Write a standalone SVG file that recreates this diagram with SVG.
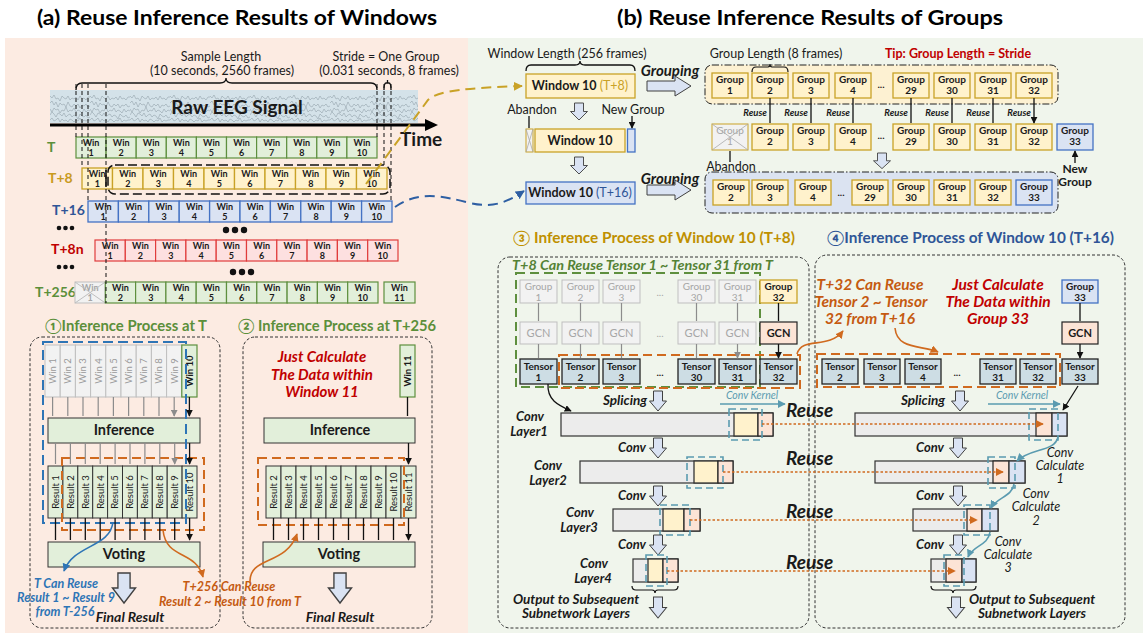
<svg xmlns="http://www.w3.org/2000/svg" width="1143" height="633" viewBox="0 0 1143 633">
<defs>
<style>
text{font-family:Lato,"Liberation Sans","DejaVu Sans",sans-serif;fill:#1a1a1a}
.ttl{font-size:21px;font-weight:bold;fill:#000}
.sm{font-size:12.5px}
.w{font-size:9px;font-weight:bold;text-anchor:middle}
.wg{font-size:9px;font-weight:bold;text-anchor:middle;fill:#a6a6a6}
.gt{font-size:10px;font-weight:bold;text-anchor:middle}
.gtg{font-size:10px;text-anchor:middle;fill:#a6a6a6}
.vt{font-size:9.5px;text-anchor:middle}
.vtg{font-size:9.5px;text-anchor:middle;fill:#9a9a9a}
.lbl{font-size:14px;font-weight:bold}
.bi{font-weight:bold;font-style:italic}
.c{text-anchor:middle}
.cv{font-size:13px}
.gb{fill:#e2efda;stroke:#5e8f3e;stroke-width:1.2}
.yb{fill:#fff2cc;stroke:#c9a227;stroke-width:1.3}
.bb{fill:#dae3f3;stroke:#4472c4;stroke-width:1.3}
.rb{fill:#fde0e0;stroke:#e03c3c;stroke-width:1.2}
.xb{fill:#f2f2f2;stroke:#bfbfbf;stroke-width:1}
.tb{fill:#cddde4;stroke:#222;stroke-width:1.3}
.pb{fill:#fce4d6;stroke:#222;stroke-width:1.2}
.kb{fill:#e2efda;stroke:#333;stroke-width:1}
.bar{fill:#ececec;stroke:#333;stroke-width:1.2}
.frame{fill:none;stroke:#333;stroke-width:1;stroke-dasharray:3,2}
.dd{stroke:#222;stroke-width:1;stroke-dasharray:7,2,1.5,2}
.kern{fill:none;stroke:#5a9bb0;stroke-width:1.6;stroke-dasharray:7,4}
.od{fill:none;stroke:#d06a1f;stroke-width:2;stroke-dasharray:9,5}
.dot{fill:none;stroke:#d06a1f;stroke-width:1.6;stroke-dasharray:2.5,2;marker-end:url(#mo)}
.vd{fill:none;stroke:#111;stroke-width:1;stroke-dasharray:4,3}
.ga{stroke:#8c8c8c;stroke-width:1.2;marker-end:url(#mg)}
.ba{stroke:#111;stroke-width:1.3;marker-end:url(#mb)}
.org{fill:#c55a11}
.teal{fill:#5a9bb0}
</style>
<marker id="mb" viewBox="0 0 10 10" refX="9" refY="5" markerWidth="7" markerHeight="7" markerUnits="userSpaceOnUse" orient="auto"><path d="M0,0L10,5L0,10Z" fill="#111"/></marker>
<marker id="mg" viewBox="0 0 10 10" refX="9" refY="5" markerWidth="7" markerHeight="7" markerUnits="userSpaceOnUse" orient="auto"><path d="M0,0L10,5L0,10Z" fill="#8c8c8c"/></marker>
<marker id="mo" viewBox="0 0 10 10" refX="9" refY="5" markerWidth="8" markerHeight="8" markerUnits="userSpaceOnUse" orient="auto"><path d="M0,0L10,5L0,10Z" fill="#d06a1f"/></marker>
<marker id="mt" viewBox="0 0 10 10" refX="9" refY="5" markerWidth="8" markerHeight="8" markerUnits="userSpaceOnUse" orient="auto"><path d="M0,0L10,5L0,10Z" fill="#5a9bb0"/></marker>
<marker id="mbl" viewBox="0 0 10 10" refX="9" refY="5" markerWidth="9" markerHeight="9" markerUnits="userSpaceOnUse" orient="auto"><path d="M0,0L10,5L0,10Z" fill="#2e5fa3"/></marker>
<marker id="mbu" viewBox="0 0 10 10" refX="9" refY="5" markerWidth="8" markerHeight="8" markerUnits="userSpaceOnUse" orient="auto"><path d="M0,0L10,5L0,10Z" fill="#2e75b6"/></marker>
<marker id="my" viewBox="0 0 10 10" refX="9" refY="5" markerWidth="9" markerHeight="9" markerUnits="userSpaceOnUse" orient="auto"><path d="M0,0L10,5L0,10Z" fill="#c9a227"/></marker>
<path id="dn" d="M-4.5,0H4.5V10H8.5L0,20L-8.5,10H-4.5Z" fill="#dae3f3" stroke="#404040" stroke-width="1"/>
<path id="rt" d="M0,-5H28V-10L44,0L28,10V5H0Z" fill="#dae3f3" stroke="#404040" stroke-width="1"/>
<pattern id="eeg" x="50" y="90" width="40" height="33" patternUnits="userSpaceOnUse">
<g fill="none" stroke="#6f7f88" stroke-width="0.5" opacity="0.75">
<path d="M0,6 l2,2 2,-3 2,4 2,-1 2,3 2,-5 2,2 2,1 2,-3 2,4 2,-2 2,1 2,-2 2,3 2,-4 2,3 2,-1 2,2 2,-3 2,0"/>
<path d="M0,13 l2,-2 2,4 2,-3 2,5 2,-4 2,2 2,-1 2,3 2,-5 2,4 2,1 2,-3 2,2 2,-2 2,4 2,-3 2,1 2,-2 2,3 2,-1"/>
<path d="M0,19 l2,3 2,-4 2,2 2,-1 2,4 2,-3 2,1 2,-4 2,5 2,-2 2,1 2,-3 2,4 2,-2 2,1 2,2 2,-4 2,3 2,-2 2,1"/>
<path d="M0,25 l2,-3 2,2 2,3 2,-4 2,1 2,2 2,-3 2,4 2,-2 2,-1 2,3 2,-2 2,1 2,3 2,-5 2,2 2,1 2,-2 2,3 2,-1"/>
<path d="M0,30 l2,-2 2,3 2,-1 2,-2 2,4 2,-3 2,2 2,-1 2,2 2,-3 2,1 2,2 2,-2 2,1 2,-3 2,4 2,-2 2,1 2,-1 2,0"/>
</g></pattern>
</defs>

<rect width="1143" height="633" fill="#fff"/>
<rect x="5" y="38" width="463" height="595" fill="#fcebe2"/>
<rect x="468" y="38" width="675" height="595" fill="#f0f5ec"/>

<text class="ttl" x="37" y="25" textLength="400" lengthAdjust="spacingAndGlyphs">(a) Reuse Inference Results of Windows</text>
<text class="ttl" x="617" y="25" textLength="386" lengthAdjust="spacingAndGlyphs">(b) Reuse Inference Results of Groups</text>

<g id="signal">
<text class="sm c" x="221" y="61">Sample Length</text>
<text class="sm c" x="222" y="75">(10 seconds, 2560 frames)</text>
<text class="sm c" x="386" y="61">Stride = One Group</text>
<text class="sm c" x="389" y="75">(0.031 seconds, 8 frames)</text>
<path d="M76,90 Q76,83 82,83 H220 Q226,83 226,78 Q226,83 232,83 H371 Q377,83 377,90" fill="none" stroke="#111" stroke-width="1.3"/>
<path d="M384,90 Q384,83 386,83 H387.5 V80 V83 H389 Q391,83 391,90" fill="none" stroke="#111" stroke-width="1.3"/>
<rect x="50" y="90" width="368" height="33" fill="#d4e2e9"/>
<rect x="50" y="90" width="368" height="33" fill="url(#eeg)"/>
<text x="237" y="114" class="c" style="font-size:19px;font-weight:bold">Raw EEG Signal</text>
<path d="M50,125 H428" stroke="#000" stroke-width="3"/>
<path d="M425,119 L438,125 L425,131 Z" fill="#000"/>
<text x="400" y="146" style="font-size:19px;font-weight:bold">Time</text>
</g>

<g id="rowT">
<text x="47" y="152" class="lbl" style="fill:#5b8f3a">T</text>
<rect class="gb" x="76" y="137" width="30.1" height="21"/><text class="w" x="91.05" y="146">Win<tspan x="91.05" dy="9.5">1</tspan></text>
<rect class="gb" x="106.1" y="137" width="30.1" height="21"/><text class="w" x="121.15" y="146">Win<tspan x="121.15" dy="9.5">2</tspan></text>
<rect class="gb" x="136.2" y="137" width="30.1" height="21"/><text class="w" x="151.25" y="146">Win<tspan x="151.25" dy="9.5">3</tspan></text>
<rect class="gb" x="166.3" y="137" width="30.1" height="21"/><text class="w" x="181.35" y="146">Win<tspan x="181.35" dy="9.5">4</tspan></text>
<rect class="gb" x="196.4" y="137" width="30.1" height="21"/><text class="w" x="211.45" y="146">Win<tspan x="211.45" dy="9.5">5</tspan></text>
<rect class="gb" x="226.5" y="137" width="30.1" height="21"/><text class="w" x="241.55" y="146">Win<tspan x="241.55" dy="9.5">6</tspan></text>
<rect class="gb" x="256.6" y="137" width="30.1" height="21"/><text class="w" x="271.65" y="146">Win<tspan x="271.65" dy="9.5">7</tspan></text>
<rect class="gb" x="286.7" y="137" width="30.1" height="21"/><text class="w" x="301.75" y="146">Win<tspan x="301.75" dy="9.5">8</tspan></text>
<rect class="gb" x="316.8" y="137" width="30.1" height="21"/><text class="w" x="331.85" y="146">Win<tspan x="331.85" dy="9.5">9</tspan></text>
<rect class="gb" x="346.9" y="137" width="30.1" height="21"/><text class="w" x="361.95" y="146">Win<tspan x="361.95" dy="9.5">10</tspan></text>
</g>

<g id="rowT8">
<text x="48" y="183" class="lbl" style="fill:#c99a1e">T+8</text>
<rect class="yb" x="82" y="168" width="30.5" height="21"/><text class="w" x="97.25" y="177">Win<tspan x="97.25" dy="9.5">1</tspan></text>
<rect class="yb" x="112.5" y="168" width="30.5" height="21"/><text class="w" x="127.75" y="177">Win<tspan x="127.75" dy="9.5">2</tspan></text>
<rect class="yb" x="143" y="168" width="30.5" height="21"/><text class="w" x="158.25" y="177">Win<tspan x="158.25" dy="9.5">3</tspan></text>
<rect class="yb" x="173.5" y="168" width="30.5" height="21"/><text class="w" x="188.75" y="177">Win<tspan x="188.75" dy="9.5">4</tspan></text>
<rect class="yb" x="204" y="168" width="30.5" height="21"/><text class="w" x="219.25" y="177">Win<tspan x="219.25" dy="9.5">5</tspan></text>
<rect class="yb" x="234.5" y="168" width="30.5" height="21"/><text class="w" x="249.75" y="177">Win<tspan x="249.75" dy="9.5">6</tspan></text>
<rect class="yb" x="265" y="168" width="30.5" height="21"/><text class="w" x="280.25" y="177">Win<tspan x="280.25" dy="9.5">7</tspan></text>
<rect class="yb" x="295.5" y="168" width="30.5" height="21"/><text class="w" x="310.75" y="177">Win<tspan x="310.75" dy="9.5">8</tspan></text>
<rect class="yb" x="326" y="168" width="30.5" height="21"/><text class="w" x="341.25" y="177">Win<tspan x="341.25" dy="9.5">9</tspan></text>
<rect class="yb" x="356.5" y="168" width="30.5" height="21"/><text class="w" x="371.75" y="177">Win<tspan x="371.75" dy="9.5">10</tspan></text>
<rect x="108" y="165" width="282" height="29" rx="7" fill="none" stroke="#111" stroke-width="1.5" stroke-dasharray="9,4"/>
</g>

<g id="rowT16">
<text x="52" y="215" class="lbl" style="fill:#2f5597">T+16</text>
<rect class="bb" x="88" y="201" width="30.4" height="21"/><text class="w" x="103.2" y="210">Win<tspan x="103.2" dy="9.5">1</tspan></text>
<rect class="bb" x="118.4" y="201" width="30.4" height="21"/><text class="w" x="133.6" y="210">Win<tspan x="133.6" dy="9.5">2</tspan></text>
<rect class="bb" x="148.8" y="201" width="30.4" height="21"/><text class="w" x="164" y="210">Win<tspan x="164" dy="9.5">3</tspan></text>
<rect class="bb" x="179.2" y="201" width="30.4" height="21"/><text class="w" x="194.4" y="210">Win<tspan x="194.4" dy="9.5">4</tspan></text>
<rect class="bb" x="209.6" y="201" width="30.4" height="21"/><text class="w" x="224.8" y="210">Win<tspan x="224.8" dy="9.5">5</tspan></text>
<rect class="bb" x="240" y="201" width="30.4" height="21"/><text class="w" x="255.2" y="210">Win<tspan x="255.2" dy="9.5">6</tspan></text>
<rect class="bb" x="270.4" y="201" width="30.4" height="21"/><text class="w" x="285.6" y="210">Win<tspan x="285.6" dy="9.5">7</tspan></text>
<rect class="bb" x="300.8" y="201" width="30.4" height="21"/><text class="w" x="316" y="210">Win<tspan x="316" dy="9.5">8</tspan></text>
<rect class="bb" x="331.2" y="201" width="30.4" height="21"/><text class="w" x="346.4" y="210">Win<tspan x="346.4" dy="9.5">9</tspan></text>
<rect class="bb" x="361.6" y="201" width="30.4" height="21"/><text class="w" x="376.8" y="210">Win<tspan x="376.8" dy="9.5">10</tspan></text>
</g>

<g id="dots" fill="#111">
<circle cx="59" cy="228" r="2.3"/><circle cx="65.5" cy="228" r="2.3"/><circle cx="72" cy="228" r="2.3"/>
<circle cx="226" cy="230" r="3.2"/><circle cx="235" cy="230" r="3.2"/><circle cx="244" cy="230" r="3.2"/>
<circle cx="59" cy="267" r="2.3"/><circle cx="65.5" cy="267" r="2.3"/><circle cx="72" cy="267" r="2.3"/>
<circle cx="233" cy="272" r="3.2"/><circle cx="242" cy="272" r="3.2"/><circle cx="251" cy="272" r="3.2"/>
</g>

<g id="rowT8n">
<text x="51" y="254" class="lbl" style="fill:#c00000">T+8n</text>
<rect class="rb" x="95" y="240" width="30.3" height="21"/><text class="w" x="110.15" y="249">Win<tspan x="110.15" dy="9.5">1</tspan></text>
<rect class="rb" x="125.3" y="240" width="30.3" height="21"/><text class="w" x="140.45" y="249">Win<tspan x="140.45" dy="9.5">2</tspan></text>
<rect class="rb" x="155.6" y="240" width="30.3" height="21"/><text class="w" x="170.75" y="249">Win<tspan x="170.75" dy="9.5">3</tspan></text>
<rect class="rb" x="185.9" y="240" width="30.3" height="21"/><text class="w" x="201.05" y="249">Win<tspan x="201.05" dy="9.5">4</tspan></text>
<rect class="rb" x="216.2" y="240" width="30.3" height="21"/><text class="w" x="231.35" y="249">Win<tspan x="231.35" dy="9.5">5</tspan></text>
<rect class="rb" x="246.5" y="240" width="30.3" height="21"/><text class="w" x="261.65" y="249">Win<tspan x="261.65" dy="9.5">6</tspan></text>
<rect class="rb" x="276.8" y="240" width="30.3" height="21"/><text class="w" x="291.95" y="249">Win<tspan x="291.95" dy="9.5">7</tspan></text>
<rect class="rb" x="307.1" y="240" width="30.3" height="21"/><text class="w" x="322.25" y="249">Win<tspan x="322.25" dy="9.5">8</tspan></text>
<rect class="rb" x="337.4" y="240" width="30.3" height="21"/><text class="w" x="352.55" y="249">Win<tspan x="352.55" dy="9.5">9</tspan></text>
<rect class="rb" x="367.7" y="240" width="30.3" height="21"/><text class="w" x="382.85" y="249">Win<tspan x="382.85" dy="9.5">10</tspan></text>
</g>

<g id="rowT256">
<text x="35" y="297" class="lbl" style="fill:#5b8f3a">T+256</text>
<rect class="xb" x="75" y="282" width="30.3" height="21"/><text class="wg" x="90.15" y="291">Win<tspan x="90.15" dy="9.5">1</tspan></text>
<path d="M75,282 L105.3,303 M105.3,282 L75,303" stroke="#bfbfbf" stroke-width="1"/>
<rect class="gb" x="105.3" y="282" width="30.3" height="21"/><text class="w" x="120.45" y="291">Win<tspan x="120.45" dy="9.5">2</tspan></text>
<rect class="gb" x="135.6" y="282" width="30.3" height="21"/><text class="w" x="150.75" y="291">Win<tspan x="150.75" dy="9.5">3</tspan></text>
<rect class="gb" x="165.9" y="282" width="30.3" height="21"/><text class="w" x="181.05" y="291">Win<tspan x="181.05" dy="9.5">4</tspan></text>
<rect class="gb" x="196.2" y="282" width="30.3" height="21"/><text class="w" x="211.35" y="291">Win<tspan x="211.35" dy="9.5">5</tspan></text>
<rect class="gb" x="226.5" y="282" width="30.3" height="21"/><text class="w" x="241.65" y="291">Win<tspan x="241.65" dy="9.5">6</tspan></text>
<rect class="gb" x="256.8" y="282" width="30.3" height="21"/><text class="w" x="271.95" y="291">Win<tspan x="271.95" dy="9.5">7</tspan></text>
<rect class="gb" x="287.1" y="282" width="30.3" height="21"/><text class="w" x="302.25" y="291">Win<tspan x="302.25" dy="9.5">8</tspan></text>
<rect class="gb" x="317.4" y="282" width="30.3" height="21"/><text class="w" x="332.55" y="291">Win<tspan x="332.55" dy="9.5">9</tspan></text>
<rect class="gb" x="347.7" y="282" width="30.3" height="21"/><text class="w" x="362.85" y="291">Win<tspan x="362.85" dy="9.5">10</tspan></text>
<rect class="gb" x="384" y="282" width="31" height="21"/><text class="w" x="399.5" y="291">Win<tspan x="399.5" dy="9.5">11</tspan></text>
</g>

<g id="guides">
<path class="vd" d="M76,84V137 M82,84V168 M88,84V201 M106,84V303 M377,84V137 M384,84V166 M391,84V201"/>
<path d="M106,170V187" stroke="#111" stroke-width="1.6"/>
</g>

<g id="proc1">
<text x="45" y="331" style="font-size:14.5px;font-weight:bold;fill:#5b8f3a" textLength="162" lengthAdjust="spacingAndGlyphs">①Inference Process at T</text>
<rect class="frame" x="30" y="337" width="190" height="291" rx="12"/>
<rect class="xb" x="45" y="345" width="15.2" height="52"/><text class="vtg" transform="translate(52.6,371) rotate(-90)" dy="3.3">Win 1</text>
<rect class="xb" x="60.2" y="345" width="15.2" height="52"/><text class="vtg" transform="translate(67.8,371) rotate(-90)" dy="3.3">Win 2</text>
<rect class="xb" x="75.4" y="345" width="15.2" height="52"/><text class="vtg" transform="translate(83,371) rotate(-90)" dy="3.3">Win 3</text>
<rect class="xb" x="90.6" y="345" width="15.2" height="52"/><text class="vtg" transform="translate(98.2,371) rotate(-90)" dy="3.3">Win 4</text>
<rect class="xb" x="105.8" y="345" width="15.2" height="52"/><text class="vtg" transform="translate(113.4,371) rotate(-90)" dy="3.3">Win 5</text>
<rect class="xb" x="121" y="345" width="15.2" height="52"/><text class="vtg" transform="translate(128.6,371) rotate(-90)" dy="3.3">Win 6</text>
<rect class="xb" x="136.2" y="345" width="15.2" height="52"/><text class="vtg" transform="translate(143.8,371) rotate(-90)" dy="3.3">Win 7</text>
<rect class="xb" x="151.4" y="345" width="15.2" height="52"/><text class="vtg" transform="translate(159,371) rotate(-90)" dy="3.3">Win 8</text>
<rect class="xb" x="166.6" y="345" width="15.2" height="52"/><text class="vtg" transform="translate(174.2,371) rotate(-90)" dy="3.3">Win 9</text>
<rect class="gb" x="181.8" y="345" width="15.2" height="52"/><text class="vt" style="font-weight:bold" transform="translate(189.4,371) rotate(-90)" dy="3.3">Win 10</text>
<rect class="kb" x="48" y="418" width="152" height="25"/>
<text x="124" y="435" class="c" style="font-size:14.5px;font-weight:bold">Inference</text>
<rect class="kb" x="48" y="466" width="14.9" height="52"/><text class="vt" transform="translate(55.5,492) rotate(-90)" dy="3.3">Result 1</text>
<rect class="kb" x="62.9" y="466" width="14.9" height="52"/><text class="vt" transform="translate(70.4,492) rotate(-90)" dy="3.3">Result 2</text>
<rect class="kb" x="77.8" y="466" width="14.9" height="52"/><text class="vt" transform="translate(85.3,492) rotate(-90)" dy="3.3">Result 3</text>
<rect class="kb" x="92.7" y="466" width="14.9" height="52"/><text class="vt" transform="translate(100.2,492) rotate(-90)" dy="3.3">Result 4</text>
<rect class="kb" x="107.6" y="466" width="14.9" height="52"/><text class="vt" transform="translate(115.1,492) rotate(-90)" dy="3.3">Result 5</text>
<rect class="kb" x="122.5" y="466" width="14.9" height="52"/><text class="vt" transform="translate(130,492) rotate(-90)" dy="3.3">Result 6</text>
<rect class="kb" x="137.4" y="466" width="14.9" height="52"/><text class="vt" transform="translate(144.9,492) rotate(-90)" dy="3.3">Result 7</text>
<rect class="kb" x="152.3" y="466" width="14.9" height="52"/><text class="vt" transform="translate(159.8,492) rotate(-90)" dy="3.3">Result 8</text>
<rect class="kb" x="167.2" y="466" width="14.9" height="52"/><text class="vt" transform="translate(174.7,492) rotate(-90)" dy="3.3">Result 9</text>
<rect class="kb" x="182.1" y="466" width="14.9" height="52"/><text class="vt" transform="translate(189.6,492) rotate(-90)" dy="3.3">Result 10</text>
<rect class="kb" x="48" y="542" width="152" height="25"/>
<text x="124" y="559" class="c" style="font-size:14.5px;font-weight:bold">Voting</text>
<rect x="43" y="342" width="143" height="181" fill="none" stroke="#2e75b6" stroke-width="2" stroke-dasharray="10,5"/>
<rect class="od" x="62" y="458" width="142" height="72"/>
<use href="#dn" transform="translate(124,573) scale(1.35,1.5)"/>
<text x="130" y="622" class="c bi" style="font-size:14px">Final Result</text>
<text class="c bi" style="font-size:12.5px;fill:#2e75b6" x="66" y="588">T Can Reuse</text>
<text class="c bi" style="font-size:12.5px;fill:#2e75b6" x="66" y="602">Result 1 ~ Result 9</text>
<text class="c bi" style="font-size:12.5px;fill:#2e75b6" x="65" y="616">from T-256</text>
</g>

<g id="proc2">
<text x="238" y="331" style="font-size:14.5px;font-weight:bold;fill:#5b8f3a" textLength="198" lengthAdjust="spacingAndGlyphs">② Inference Process at T+256</text>
<rect class="frame" x="243" y="337" width="189" height="291" rx="12"/>
<text class="c bi" style="font-size:15px;fill:#c00000" x="322" y="362">Just Calculate</text>
<text class="c bi" style="font-size:15px;fill:#c00000" x="322" y="380">The Data within</text>
<text class="c bi" style="font-size:15px;fill:#c00000" x="322" y="397">Window 11</text>
<rect class="gb" x="400" y="345" width="15" height="52"/><text class="vt" style="font-weight:bold" transform="translate(407.5,371) rotate(-90)" dy="3.3">Win 11</text>
<rect class="kb" x="264" y="418" width="151" height="25"/>
<text x="340" y="435" class="c" style="font-size:14.5px;font-weight:bold">Inference</text>
<rect class="kb" x="266" y="466" width="15" height="52"/><text class="vt" transform="translate(273.5,492) rotate(-90)" dy="3.3">Result 2</text>
<rect class="kb" x="281" y="466" width="15" height="52"/><text class="vt" transform="translate(288.5,492) rotate(-90)" dy="3.3">Result 3</text>
<rect class="kb" x="296" y="466" width="15" height="52"/><text class="vt" transform="translate(303.5,492) rotate(-90)" dy="3.3">Result 4</text>
<rect class="kb" x="311" y="466" width="15" height="52"/><text class="vt" transform="translate(318.5,492) rotate(-90)" dy="3.3">Result 5</text>
<rect class="kb" x="326" y="466" width="15" height="52"/><text class="vt" transform="translate(333.5,492) rotate(-90)" dy="3.3">Result 6</text>
<rect class="kb" x="341" y="466" width="15" height="52"/><text class="vt" transform="translate(348.5,492) rotate(-90)" dy="3.3">Result 7</text>
<rect class="kb" x="356" y="466" width="15" height="52"/><text class="vt" transform="translate(363.5,492) rotate(-90)" dy="3.3">Result 8</text>
<rect class="kb" x="371" y="466" width="15" height="52"/><text class="vt" transform="translate(378.5,492) rotate(-90)" dy="3.3">Result 9</text>
<rect class="kb" x="386" y="466" width="15" height="52"/><text class="vt" transform="translate(393.5,492) rotate(-90)" dy="3.3">Result 10</text>
<rect class="kb" x="401" y="466" width="15" height="52"/><text class="vt" transform="translate(408.5,492) rotate(-90)" dy="3.3">Result 11</text>
<rect class="kb" x="263" y="542" width="152" height="25"/>
<text x="339" y="559" class="c" style="font-size:14.5px;font-weight:bold">Voting</text>
<rect class="od" x="258" y="458" width="146" height="67"/>
<use href="#dn" transform="translate(340,573) scale(1.35,1.5)"/>
<text x="340" y="622" class="c bi" style="font-size:14px">Final Result</text>
<text class="c bi org" style="font-size:12.5px" x="229" y="591">T+256 Can Reuse</text>
<text class="c bi org" style="font-size:12.5px" x="230" y="606">Result 2 ~ Result 10 from T</text>
</g>

<g id="windows">
<text class="sm c" x="567" y="58">Window Length (256 frames)</text>
<path d="M526,71 Q526,65 531,65 H575 Q580,65 580,61 Q580,65 585,65 H630 Q635,65 635,71" fill="none" stroke="#111" stroke-width="1.3"/>
<rect class="yb" x="526" y="74" width="109" height="24"/>
<text x="580" y="90" class="c" style="font-size:12.5px;font-weight:bold">Window 10 <tspan style="fill:#c9a227;font-weight:normal">(T+8)</tspan></text>
<use href="#dn" transform="translate(579,103) scale(1,0.85)"/>
<text class="sm c" x="532" y="114">Abandon</text>
<text class="sm c" x="633" y="114">New Group</text>
<rect class="xb" x="526" y="129" width="7" height="23" style="stroke:#c9a227"/>
<path d="M526,129 L533,152 M533,129 L526,152" stroke="#aaa" stroke-width="0.8"/>
<rect class="yb" x="535" y="129" width="90" height="23"/>
<text x="580" y="145" class="c" style="font-size:12.5px;font-weight:bold">Window 10</text>
<rect class="bb" x="627.5" y="129" width="7.5" height="23"/>
<use href="#dn" transform="translate(579,157) scale(1,0.85)"/>
<rect class="bb" x="526" y="182" width="109" height="22"/>
<text x="580" y="197" class="c" style="font-size:12.5px;font-weight:bold">Window 10 <tspan style="fill:#2f5597;font-weight:normal">(T+16)</tspan></text>
<text x="670" y="76" class="c bi" style="font-size:15px">Grouping</text>
<use href="#rt" transform="translate(647,86)"/>
<text x="670" y="184" class="c bi" style="font-size:15px">Grouping</text>
<use href="#rt" transform="translate(647,190)"/>
</g>

<g id="groups">
<text class="sm c" x="776" y="58">Group Length (8 frames)</text>
<text class="sm c" x="958" y="58" style="fill:#c00000;font-weight:bold">Tip: Group Length = Stride</text>
<rect class="dd" x="705" y="65" width="353" height="39" rx="7" fill="#fdf1d2"/>
<path d="M752,72 Q752,67 756,67 H768 Q770,67 770,64 Q770,67 772,67 H784 Q788,67 788,72" fill="none" stroke="#111" stroke-width="1.2"/>
<rect class="yb" x="712" y="73" width="36" height="25"/><text class="gt" x="730" y="83">Group<tspan x="730" dy="11">1</tspan></text>
<rect class="yb" x="752" y="73" width="36" height="25"/><text class="gt" x="770" y="83">Group<tspan x="770" dy="11">2</tspan></text>
<rect class="yb" x="793" y="73" width="36" height="25"/><text class="gt" x="811" y="83">Group<tspan x="811" dy="11">3</tspan></text>
<rect class="yb" x="835" y="73" width="36" height="25"/><text class="gt" x="853" y="83">Group<tspan x="853" dy="11">4</tspan></text>
<text class="gt" x="881" y="88">...</text>
<rect class="yb" x="893" y="73" width="36" height="25"/><text class="gt" x="911" y="83">Group<tspan x="911" dy="11">29</tspan></text>
<rect class="yb" x="934" y="73" width="36" height="25"/><text class="gt" x="952" y="83">Group<tspan x="952" dy="11">30</tspan></text>
<rect class="yb" x="975" y="73" width="36" height="25"/><text class="gt" x="993" y="83">Group<tspan x="993" dy="11">31</tspan></text>
<rect class="yb" x="1016" y="73" width="36" height="25"/><text class="gt" x="1034" y="83">Group<tspan x="1034" dy="11">32</tspan></text>

<rect class="xb" x="712" y="124" width="36" height="26" style="stroke:#c9a227"/><text class="gtg" x="730" y="134">Group<tspan x="730" dy="11">1</tspan></text>
<path d="M712,124 L748,150 M748,124 L712,150" stroke="#aaa" stroke-width="0.8"/>
<rect class="yb" x="752" y="124" width="36" height="26"/><text class="gt" x="770" y="134">Group<tspan x="770" dy="11">2</tspan></text>
<rect class="yb" x="793" y="124" width="36" height="26"/><text class="gt" x="811" y="134">Group<tspan x="811" dy="11">3</tspan></text>
<rect class="yb" x="835" y="124" width="36" height="26"/><text class="gt" x="853" y="134">Group<tspan x="853" dy="11">4</tspan></text>
<text class="gt" x="881" y="139">...</text>
<rect class="yb" x="893" y="124" width="36" height="26"/><text class="gt" x="911" y="134">Group<tspan x="911" dy="11">29</tspan></text>
<rect class="yb" x="934" y="124" width="36" height="26"/><text class="gt" x="952" y="134">Group<tspan x="952" dy="11">30</tspan></text>
<rect class="yb" x="975" y="124" width="36" height="26"/><text class="gt" x="993" y="134">Group<tspan x="993" dy="11">31</tspan></text>
<rect class="yb" x="1016" y="124" width="36" height="26"/><text class="gt" x="1034" y="134">Group<tspan x="1034" dy="11">32</tspan></text>
<rect class="bb" x="1057" y="124" width="36" height="26"/><text class="gt" x="1075" y="134">Group<tspan x="1075" dy="11">33</tspan></text>

<g style="font-size:9.5px;font-style:italic;font-weight:bold;text-anchor:end">
<text x="767" y="116">Reuse</text><text x="808" y="116">Reuse</text><text x="850" y="116">Reuse</text><text x="908" y="116">Reuse</text><text x="949" y="116">Reuse</text><text x="990" y="116">Reuse</text><text x="1031" y="116">Reuse</text>
</g>
<text class="sm c" x="731" y="171">Abandon</text>
<text class="c" x="1075" y="173" style="font-size:12px;font-weight:bold">New</text>
<text class="c" x="1075" y="186" style="font-size:12px;font-weight:bold">Group</text>
<use href="#dn" transform="translate(882,153) scale(1,0.78)"/>

<rect class="dd" x="705" y="172" width="353" height="41" rx="7" fill="#dbe3f1"/>
<rect class="yb" x="713" y="180" width="36" height="25"/><text class="gt" x="731" y="190">Group<tspan x="731" dy="11">2</tspan></text>
<rect class="yb" x="752" y="180" width="36" height="25"/><text class="gt" x="770" y="190">Group<tspan x="770" dy="11">3</tspan></text>
<rect class="yb" x="795" y="180" width="36" height="25"/><text class="gt" x="813" y="190">Group<tspan x="813" dy="11">4</tspan></text>
<text class="gt" x="841" y="196">...</text>
<rect class="yb" x="852" y="180" width="36" height="25"/><text class="gt" x="870" y="190">Group<tspan x="870" dy="11">29</tspan></text>
<rect class="yb" x="893" y="180" width="36" height="25"/><text class="gt" x="911" y="190">Group<tspan x="911" dy="11">30</tspan></text>
<rect class="yb" x="934" y="180" width="36" height="25"/><text class="gt" x="952" y="190">Group<tspan x="952" dy="11">31</tspan></text>
<rect class="yb" x="975" y="180" width="36" height="25"/><text class="gt" x="993" y="190">Group<tspan x="993" dy="11">32</tspan></text>
<rect class="bb" x="1016" y="180" width="36" height="25"/><text class="gt" x="1034" y="190">Group<tspan x="1034" dy="11">33</tspan></text>
</g>

<g id="sec3">
<text x="513" y="243" style="font-size:14.5px;font-weight:bold;fill:#bf9000" textLength="282" lengthAdjust="spacingAndGlyphs">③ Inference Process of Window 10 (T+8)</text>
<rect class="frame" x="498" y="257" width="311" height="371" rx="12"/>
<text x="512" y="270" class="bi" style="font-size:13px;fill:#548235" textLength="261" lengthAdjust="spacingAndGlyphs">T+8 Can Reuse Tensor 1 ~ Tensor 31 from T</text>
<rect x="516" y="273" width="244" height="114" fill="none" stroke="#5e8f3e" stroke-width="2" stroke-dasharray="9,5"/>

<rect class="xb" x="520" y="280" width="37" height="23"/><text class="gtg" x="538.5" y="290">Group<tspan x="538.5" dy="10.5">1</tspan></text>
<rect class="xb" x="562" y="280" width="37" height="23"/><text class="gtg" x="580.5" y="290">Group<tspan x="580.5" dy="10.5">2</tspan></text>
<rect class="xb" x="603" y="280" width="37" height="23"/><text class="gtg" x="621.5" y="290">Group<tspan x="621.5" dy="10.5">3</tspan></text>
<text class="gtg" x="660" y="296">...</text>
<rect class="xb" x="678" y="280" width="37" height="23"/><text class="gtg" x="696.5" y="290">Group<tspan x="696.5" dy="10.5">30</tspan></text>
<rect class="xb" x="719" y="280" width="37" height="23"/><text class="gtg" x="737.5" y="290">Group<tspan x="737.5" dy="10.5">31</tspan></text>
<rect class="yb" x="760" y="280" width="37" height="23"/><text class="gt" x="778.5" y="290">Group<tspan x="778.5" dy="10.5">32</tspan></text>

<rect class="xb" x="520" y="322" width="37" height="22"/><text class="gtg" style="font-size:11px" x="538.5" y="337">GCN</text>
<rect class="xb" x="562" y="322" width="37" height="22"/><text class="gtg" style="font-size:11px" x="580.5" y="337">GCN</text>
<rect class="xb" x="603" y="322" width="37" height="22"/><text class="gtg" style="font-size:11px" x="621.5" y="337">GCN</text>
<text class="gtg" x="660" y="337">...</text>
<rect class="xb" x="678" y="322" width="37" height="22"/><text class="gtg" style="font-size:11px" x="696.5" y="337">GCN</text>
<rect class="xb" x="719" y="322" width="37" height="22"/><text class="gtg" style="font-size:11px" x="737.5" y="337">GCN</text>
<rect class="pb" x="760" y="322" width="37" height="22"/><text class="gt" style="font-size:11px" x="778.5" y="337">GCN</text>

<rect class="tb" x="520" y="359" width="37" height="25"/><text class="gt" x="538.5" y="369.5">Tensor<tspan x="538.5" dy="11">1</tspan></text>
<rect class="tb" x="562" y="359" width="37" height="25"/><text class="gt" x="580.5" y="369.5">Tensor<tspan x="580.5" dy="11">2</tspan></text>
<rect class="tb" x="603" y="359" width="37" height="25"/><text class="gt" x="621.5" y="369.5">Tensor<tspan x="621.5" dy="11">3</tspan></text>
<text class="gt" x="660" y="376">...</text>
<rect class="tb" x="678" y="359" width="37" height="25"/><text class="gt" x="696.5" y="369.5">Tensor<tspan x="696.5" dy="11">30</tspan></text>
<rect class="tb" x="719" y="359" width="37" height="25"/><text class="gt" x="737.5" y="369.5">Tensor<tspan x="737.5" dy="11">31</tspan></text>
<rect class="tb" x="760" y="359" width="37" height="25"/><text class="gt" x="778.5" y="369.5">Tensor<tspan x="778.5" dy="11">32</tspan></text>
<rect class="od" x="559" y="355" width="241" height="33"/>

<text x="625" y="405" class="c bi" style="font-size:13.5px">Splicing</text>
<use href="#dn" transform="translate(658,391)"/>
<text x="752" y="399" class="c teal" style="font-size:10.5px;font-style:italic">Conv Kernel</text>

<text class="c bi cv" x="530" y="421">Conv</text><text class="c bi cv" x="529" y="436">Layer1</text>
<rect class="bar" x="561" y="413" width="212" height="23"/>
<rect class="yb" x="734" y="413" width="24" height="23" style="stroke:#333"/>
<rect class="pb" x="758" y="413" width="15" height="23"/>
<rect class="kern" x="729" y="409" width="33" height="31"/>

<text class="c bi cv" x="632" y="452">Conv</text>
<use href="#dn" transform="translate(658,438)"/>
<text class="c bi cv" x="548" y="470">Conv</text><text class="c bi cv" x="548" y="485">Layer2</text>
<rect class="bar" x="580" y="461" width="153" height="22"/>
<rect class="yb" x="694" y="461" width="24" height="22" style="stroke:#333"/>
<rect class="pb" x="718" y="461" width="15" height="22"/>
<rect class="kern" x="687" y="457" width="36" height="31"/>

<text class="c bi cv" x="632" y="500">Conv</text>
<use href="#dn" transform="translate(658,486)"/>
<text class="c bi cv" x="580" y="517">Conv</text><text class="c bi cv" x="579" y="532">Layer3</text>
<rect class="bar" x="613" y="509" width="87" height="22"/>
<rect class="yb" x="663" y="509" width="21" height="22" style="stroke:#333"/>
<rect class="pb" x="684" y="509" width="16" height="22"/>
<rect class="kern" x="660" y="505" width="30" height="30"/>

<text class="c bi cv" x="632" y="549">Conv</text>
<use href="#dn" transform="translate(658,535)"/>
<text class="c bi cv" x="594" y="568">Conv</text><text class="c bi cv" x="593" y="583">Layer4</text>
<rect class="bar" x="633" y="559" width="45" height="23"/>
<rect class="yb" x="648" y="559" width="15" height="23" style="stroke:#333"/>
<rect class="pb" x="663" y="559" width="15" height="23"/>
<rect class="kern" x="646" y="555" width="21" height="31"/>
<path d="M632,586 Q632,590 636,590 H652 Q655,590 655,593 Q655,590 658,590 H674 Q678,590 678,586" fill="none" stroke="#111" stroke-width="1.2"/>
<text class="c bi" style="font-size:13.5px" x="576" y="604">Output to Subsequent</text>
<text class="c bi" style="font-size:13.5px" x="576" y="618">Subnetwork Layers</text>
<use href="#dn" transform="translate(658,597) scale(1,1.05)"/>
</g>

<g id="sec4">
<text x="827" y="243" style="font-size:14.5px;font-weight:bold;fill:#2f5597" textLength="287" lengthAdjust="spacingAndGlyphs">④Inference Process of Window 10 (T+16)</text>
<rect class="frame" x="815" y="255" width="310" height="373" rx="12"/>
<text class="c bi org" style="font-size:15.5px" x="870" y="290">T+32 Can Reuse</text>
<text class="c bi org" style="font-size:15.5px" x="871" y="307">Tensor 2 ~ Tensor</text>
<text class="c bi org" style="font-size:15.5px" x="870" y="324">32 from T+16</text>
<text class="c bi" style="font-size:15.5px;fill:#c00000" x="998" y="290">Just Calculate</text>
<text class="c bi" style="font-size:15.5px;fill:#c00000" x="998" y="307">The Data within</text>
<text class="c bi" style="font-size:15.5px;fill:#c00000" x="998" y="324">Group 33</text>
<rect class="bb" x="1062" y="280" width="36" height="23"/><text class="gt" x="1080" y="290">Group<tspan x="1080" dy="10.5">33</tspan></text>
<rect class="pb" x="1062" y="322" width="36" height="22"/><text class="gt" style="font-size:11px" x="1080" y="337">GCN</text>
<rect class="tb" x="1062" y="359" width="36" height="25"/><text class="gt" x="1080" y="369.5">Tensor<tspan x="1080" dy="11">33</tspan></text>

<rect class="tb" x="822" y="359" width="36" height="25"/><text class="gt" x="840" y="369.5">Tensor<tspan x="840" dy="11">2</tspan></text>
<rect class="tb" x="864" y="359" width="36" height="25"/><text class="gt" x="882" y="369.5">Tensor<tspan x="882" dy="11">3</tspan></text>
<rect class="tb" x="905" y="359" width="36" height="25"/><text class="gt" x="923" y="369.5">Tensor<tspan x="923" dy="11">4</tspan></text>
<text class="gt" x="957" y="376">...</text>
<rect class="tb" x="980" y="359" width="36" height="25"/><text class="gt" x="998" y="369.5">Tensor<tspan x="998" dy="11">31</tspan></text>
<rect class="tb" x="1020" y="359" width="36" height="25"/><text class="gt" x="1038" y="369.5">Tensor<tspan x="1038" dy="11">32</tspan></text>
<rect class="od" x="817" y="354" width="243" height="33"/>

<text x="923" y="405" class="c bi" style="font-size:13.5px">Splicing</text>
<use href="#dn" transform="translate(960,391)"/>
<text x="1022" y="399" class="c teal" style="font-size:10.5px;font-style:italic">Conv Kernel</text>

<rect class="bar" x="855" y="413" width="212" height="23"/>
<rect class="pb" x="1036" y="413" width="16" height="23"/>
<rect class="bb" x="1052" y="413" width="15" height="23" style="stroke:#333"/>
<rect class="kern" x="1029" y="409" width="29" height="31"/>

<text class="c bi cv" x="930" y="452">Conv</text>
<use href="#dn" transform="translate(958,438)"/>
<rect class="bar" x="875" y="461" width="150" height="22"/>
<rect class="pb" x="993" y="461" width="16" height="22"/>
<rect class="bb" x="1009" y="461" width="16" height="22" style="stroke:#333"/>
<rect class="kern" x="988" y="457" width="27" height="31"/>

<text class="c bi cv" x="930" y="500">Conv</text>
<use href="#dn" transform="translate(958,486)"/>
<rect class="bar" x="913" y="509" width="85" height="22"/>
<rect class="pb" x="967" y="509" width="15" height="22"/>
<rect class="bb" x="982" y="509" width="16" height="22" style="stroke:#333"/>
<rect class="kern" x="964" y="505" width="26" height="30"/>

<text class="c bi cv" x="930" y="549">Conv</text>
<use href="#dn" transform="translate(958,535)"/>
<rect class="bar" x="931" y="559" width="45" height="23"/>
<rect class="pb" x="946" y="559" width="16" height="23"/>
<rect class="bb" x="962" y="559" width="14" height="23" style="stroke:#333"/>
<rect class="kern" x="944" y="555" width="20" height="31"/>
<path d="M931,586 Q931,590 935,590 H950 Q953,590 953,593 Q953,590 956,590 H972 Q976,590 976,586" fill="none" stroke="#111" stroke-width="1.2"/>
<text class="c bi" style="font-size:13.5px" x="1032" y="604">Output to Subsequent</text>
<text class="c bi" style="font-size:13.5px" x="1032" y="618">Subnetwork Layers</text>
<use href="#dn" transform="translate(956,597) scale(1,1.05)"/>

<g class="teal" style="font-size:12.5px;font-style:italic;text-anchor:middle">
<text x="1060" y="457">Conv</text><text x="1060" y="470">Calculate</text><text x="1060" y="483">1</text>
<text x="1036" y="498">Conv</text><text x="1036" y="511">Calculate</text><text x="1036" y="525">2</text>
<text x="1008" y="546">Conv</text><text x="1008" y="559">Calculate</text><text x="1008" y="572">3</text>
</g>
</g>

<g id="connectors" fill="none">
<path class="ga" d="M52.6,397V416 M67.8,397V416 M83,397V416 M98.2,397V416 M113.4,397V416 M128.6,397V416 M143.8,397V416 M159,397V416 M174.2,397V416"/>
<path class="ba" d="M189.4,397V416"/>
<path class="ga" d="M55.5,443V464 M70.4,443V464 M85.3,443V464 M100.2,443V464 M115.1,443V464 M130,443V464 M144.9,443V464 M159.8,443V464 M174.7,443V464"/>
<path class="ba" d="M189.6,443V464"/>
<path class="ba" d="M55.5,518V540 M70.4,518V540 M85.3,518V540 M100.2,518V540 M115.1,518V540 M130,518V540 M144.9,518V540 M159.8,518V540 M174.7,518V540 M189.6,518V540"/>
<path d="M113,522 C110,548 74,544 64,571" stroke="#2e75b6" stroke-width="1.6" marker-end="url(#mbu)"/>
<path d="M163,530 C166,560 196,550 203,577" stroke="#d06a1f" stroke-width="1.6" marker-end="url(#mo)"/>
<path class="ba" d="M407.5,397V416 M408.5,443V464"/>
<path class="ba" d="M273.5,518V540 M288.5,518V540 M303.5,518V540 M318.5,518V540 M333.5,518V540 M348.5,518V540 M363.5,518V540 M378.5,518V540 M393.5,518V540 M408.5,518V540"/>
<path d="M250,582 C249,556 286,566 297,534" stroke="#d06a1f" stroke-width="1.6" marker-end="url(#mo)"/>
<path d="M366,184 L428,100 C438,90 470,88 522,86" stroke="#c9a227" stroke-width="2" stroke-dasharray="10,6" marker-end="url(#my)"/>
<path d="M395,207 C420,190 442,196 470,203 C496,209 510,200 524,191" stroke="#2e5fa3" stroke-width="2" stroke-dasharray="10,6" marker-end="url(#mbl)"/>
<path class="ba" d="M529,116V128 M632,116V128"/>
<path class="ba" d="M770,98V123 M811,98V123 M853,98V123 M911,98V123 M952,98V123 M993,98V123 M1034,98V123"/>
<path class="ba" d="M730,162V151 M1075,163V151"/>
<path class="ga" d="M538.5,303V321 M580.5,303V321 M621.5,303V321 M696.5,303V321 M737.5,303V321 M538.5,344V358 M580.5,344V358 M621.5,344V358 M696.5,344V358 M737.5,344V358"/>
<path class="ba" d="M778.5,303V321 M778.5,344V358"/>
<path class="ba" d="M548,384 C547,400 558,405 571,411"/>
<path d="M720,404H785" stroke="#5a9bb0" stroke-width="1.5" marker-end="url(#mt)"/>
<path d="M797,354 C802,336 828,350 843,331" stroke="#d06a1f" stroke-width="1.6" marker-end="url(#mo)"/>
<path class="ba" d="M1080,303V321 M1080,344V358"/>
<path class="ba" d="M1078,386 L1063,410"/>
<path d="M988,404H1060" stroke="#5a9bb0" stroke-width="1.5" marker-end="url(#mt)"/>
<path d="M895,328 C897,350 922,345 938,352" stroke="#d06a1f" stroke-width="1.6" marker-end="url(#mo)"/>
<path d="M1058,437 C1055,452 1030,448 1017,461" stroke="#5a9bb0" stroke-width="1.6" marker-end="url(#mt)"/>
<path d="M1014,484 C1012,497 997,497 991,508" stroke="#5a9bb0" stroke-width="1.6" marker-end="url(#mt)"/>
<path d="M990,532 C988,546 973,545 968,557" stroke="#5a9bb0" stroke-width="1.6" marker-end="url(#mt)"/>
<path class="dot" d="M762,424H1043"/>
<path class="dot" d="M723,472H1003"/>
<path class="dot" d="M690,520H977"/>
<path class="dot" d="M667,571H955"/>
</g>
<g id="reuse-labels" class="org" style="font-size:19px;font-weight:bold;font-style:italic">
<text x="786" y="417">Reuse</text><text x="786" y="465">Reuse</text><text x="786" y="518">Reuse</text><text x="786" y="569">Reuse</text>
</g>
</svg>
